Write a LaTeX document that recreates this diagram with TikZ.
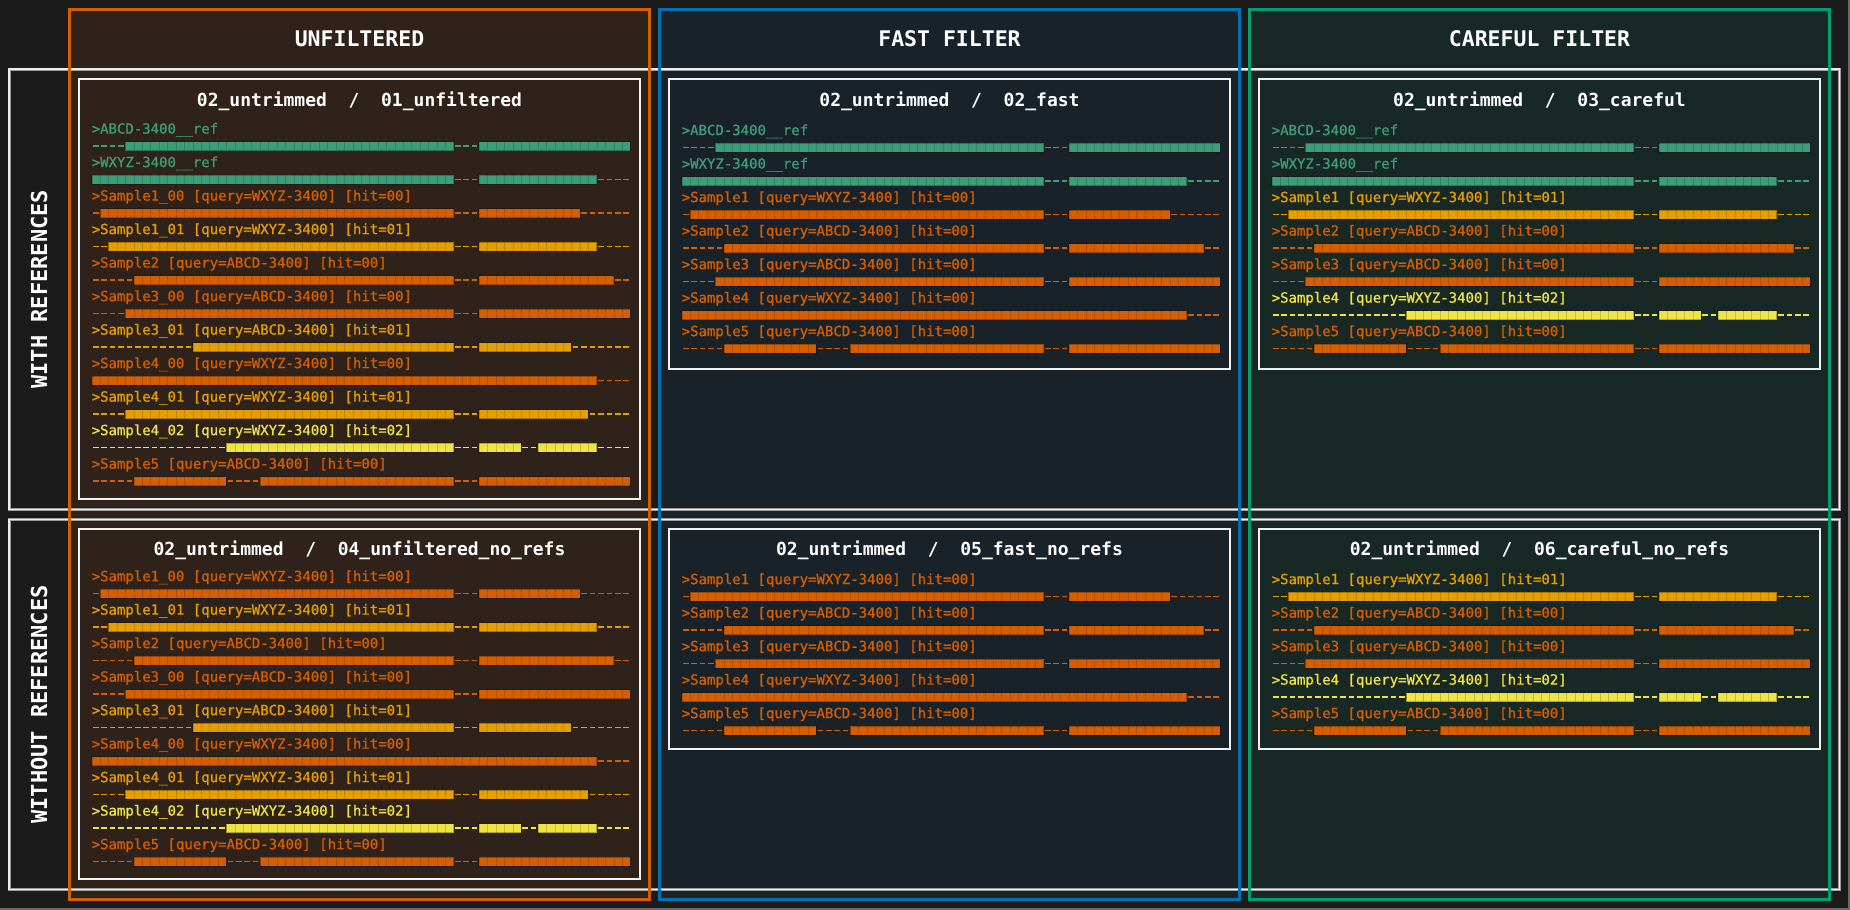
\documentclass[tikz,border=0pt]{standalone}
\usepackage{fontspec}
\newfontfamily\monofont{DejaVu Sans Mono}
\newfontfamily\labelmono{DejaVu Sans Mono}[FakeBold=0.8]

% palette
\definecolor{bgdark}{HTML}{1B1B1B}
\definecolor{fillU}{HTML}{2E221A}
\definecolor{fillF}{HTML}{1A2229}
\definecolor{fillC}{HTML}{182825}
\definecolor{lineU}{HTML}{D55E00}
\definecolor{lineF}{HTML}{0072B2}
\definecolor{lineC}{HTML}{009E73}
\definecolor{rowgray}{HTML}{9C9C9C}
\definecolor{rowlight}{HTML}{EEEEEE}
\definecolor{panelwhite}{HTML}{F2F2F2}
\definecolor{edgegray}{HTML}{6A6A6A}
\definecolor{verm}{HTML}{D55E00}
\definecolor{amber}{HTML}{E69F00}
\definecolor{yell}{HTML}{F0E442}
\definecolor{refg}{HTML}{3C9E78}

\newcommand\lblfont{\labelmono\fontsize{14}{16}\selectfont}
\newcommand\ttlfont{\monofont\bfseries\fontsize{18}{20}\selectfont}
\newcommand\hdrfont{\monofont\bfseries\fontsize{21.5}{24}\selectfont}
\newcommand\rowfont{\monofont\bfseries\fontsize{22}{24}\selectfont}

% width of one alignment cell
\def\cw{8.42}

% alignment blocks (first cell / last cell) of each sequence
\def\bRefA{4/42,46/63}
\def\bRefW{0/42,46/59}
\def\bSoneA{1/42,46/57}
\def\bSoneB{2/42,46/59}
\def\bStwo{5/42,46/61}
\def\bSthreeA{4/42,46/63}
\def\bSthreeB{12/42,46/56}
\def\bSfourA{0/59}
\def\bSfourB{4/42,46/58}
\def\bSfourC{16/42,46/50,53/59}
\def\bSfive{5/15,20/42,46/63}

% one alignment row: gaps as dashes, aligned stretches as filled cells
\newcommand{\seqbar}[4]{% #1 x, #2 y, #3 colour, #4 blocks
  \draw[#3, line width=1.5pt, dash pattern=on 5.6pt off 2.82pt, dash phase=7.02pt]
    (#1,#2) -- ++(64*\cw,0);
  \foreach \a/\b in #4 {%
    \fill[#3] ({#1+\a*\cw},{#2-4.5}) rectangle ({#1+(\b+1)*\cw},{#2+4.5});
    \draw[black, opacity=0.16, line width=9pt, dash pattern=on 0.7pt off 7.72pt]
      ({#1+\a*\cw},#2) -- ({#1+(\b+1)*\cw},#2);
    \draw[black, opacity=0.25, line width=0.7pt]
      ({#1+\a*\cw},{#2-4.5}) rectangle ({#1+(\b+1)*\cw},{#2+4.5});
  }%
}

% header line plus its alignment row
\newcommand{\seqentry}[7]{% #1 name, #2 x, #3 first y, #4 index, #5 colour, #6 text, #7 blocks
  \pgfmathsetmacro\ey{#3+#4*33.5}
  \node[lbl, text=#5] (#1) at (#2,\ey+5.1) {#6};
  \pgfmathsetmacro\by{\ey+17.7}
  \seqbar{#2}{\by}{#5}{#7}
}

\begin{document}
\begin{tikzpicture}[x=1pt, y=-1pt,
  lbl/.style={anchor=base west, inner sep=0pt, font=\lblfont},
  ttl/.style={anchor=base, inner sep=0pt, font=\ttlfont, text=white},
  hdr/.style={anchor=base, inner sep=0pt, font=\hdrfont, text=white},
  rowlbl/.style={rotate=90, inner sep=0pt, font=\rowfont, text=white},
  colfill/.style={inner sep=0pt, outer sep=0pt, minimum width=580pt, minimum height=889.5pt},
  colline/.style={line width=3pt},
  rowbox/.style={draw=rowgray, double=rowlight, double distance=1.1pt, line width=0.95pt,
    inner sep=0pt, outer sep=0pt, minimum width=1830.5pt},
  panel/.style={draw=panelwhite, line width=1.5pt, inner sep=0pt, outer sep=0pt, minimum width=561pt}
]
\useasboundingbox (0,0) rectangle (1850,910);
\fill[bgdark] (0,0) rectangle (1850,910);

% column backgrounds
\node[colfill, fill=fillU] (colU) at (359.5,454.25) {};
\node[colfill, fill=fillF] (colF) at (949.5,454.25) {};
\node[colfill, fill=fillC] (colC) at (1539.5,454.25) {};

% row frames
\node[rowbox, minimum height=440.5pt] (rowW) at (924.25,289.25) {};
\node[rowbox, minimum height=370pt] (rowN) at (924.25,704.5) {};

% column frames on top
\draw[colline, lineU] (colU.north west) rectangle (colU.south east);
\draw[colline, lineF] (colF.north west) rectangle (colF.south east);
\draw[colline, lineC] (colC.north west) rectangle (colC.south east);

% window edge
\draw[edgegray, line width=1.5pt] (1849.2,0) -- (1849.2,910);
\draw[edgegray, line width=1.5pt] (0,908.8) -- (1850,908.8);

% column headers
\node[hdr] (hU) at (359.5,46.7) {UNFILTERED};
\node[hdr] (hF) at (949.5,46.7) {FAST FILTER};
\node[hdr] (hC) at (1539.5,46.7) {CAREFUL FILTER};

% row headers
\node[rowlbl] (rW) at (39,289.25) {WITH REFERENCES};
\node[rowlbl] (rN) at (39,704.5) {WITHOUT REFERENCES};

% panels
\node[panel, minimum height=420pt] (pTU) at (359.5,289) {};
\node[panel, minimum height=290pt] (pTF) at (949.5,224) {};
\node[panel, minimum height=290pt] (pTC) at (1539.5,224) {};
\node[panel, minimum height=350pt] (pBU) at (359.5,704) {};
\node[panel, minimum height=220pt] (pBF) at (949.5,639) {};
\node[panel, minimum height=220pt] (pBC) at (1539.5,639) {};

% panel titles
\node[ttl] (tTU) at (359.5,106) {02\_untrimmed\ \ /\ \ 01\_unfiltered};
\node[ttl] (tTF) at (949.5,106) {02\_untrimmed\ \ /\ \ 02\_fast};
\node[ttl] (tTC) at (1539.5,106) {02\_untrimmed\ \ /\ \ 03\_careful};
\node[ttl] (tBU) at (359.5,555.6) {02\_untrimmed\ \ /\ \ 04\_unfiltered\_no\_refs};
\node[ttl] (tBF) at (949.5,555.6) {02\_untrimmed\ \ /\ \ 05\_fast\_no\_refs};
\node[ttl] (tBC) at (1539.5,555.6) {02\_untrimmed\ \ /\ \ 06\_careful\_no\_refs};

% --- unfiltered, with references
\seqentry{tu0}{91.5}{128.5}{0}{refg}{>ABCD-3400\_\_ref}{\bRefA}
\seqentry{tu1}{91.5}{128.5}{1}{refg}{>WXYZ-3400\_\_ref}{\bRefW}
\seqentry{tu2}{91.5}{128.5}{2}{verm}{>Sample1\_00 [query=WXYZ-3400] [hit=00]}{\bSoneA}
\seqentry{tu3}{91.5}{128.5}{3}{amber}{>Sample1\_01 [query=WXYZ-3400] [hit=01]}{\bSoneB}
\seqentry{tu4}{91.5}{128.5}{4}{verm}{>Sample2 [query=ABCD-3400] [hit=00]}{\bStwo}
\seqentry{tu5}{91.5}{128.5}{5}{verm}{>Sample3\_00 [query=ABCD-3400] [hit=00]}{\bSthreeA}
\seqentry{tu6}{91.5}{128.5}{6}{amber}{>Sample3\_01 [query=ABCD-3400] [hit=01]}{\bSthreeB}
\seqentry{tu7}{91.5}{128.5}{7}{verm}{>Sample4\_00 [query=WXYZ-3400] [hit=00]}{\bSfourA}
\seqentry{tu8}{91.5}{128.5}{8}{amber}{>Sample4\_01 [query=WXYZ-3400] [hit=01]}{\bSfourB}
\seqentry{tu9}{91.5}{128.5}{9}{yell}{>Sample4\_02 [query=WXYZ-3400] [hit=02]}{\bSfourC}
\seqentry{tu10}{91.5}{128.5}{10}{verm}{>Sample5 [query=ABCD-3400] [hit=00]}{\bSfive}

% --- fast filter, with references
\seqentry{tf0}{681.5}{130}{0}{refg}{>ABCD-3400\_\_ref}{\bRefA}
\seqentry{tf1}{681.5}{130}{1}{refg}{>WXYZ-3400\_\_ref}{\bRefW}
\seqentry{tf2}{681.5}{130}{2}{verm}{>Sample1 [query=WXYZ-3400] [hit=00]}{\bSoneA}
\seqentry{tf3}{681.5}{130}{3}{verm}{>Sample2 [query=ABCD-3400] [hit=00]}{\bStwo}
\seqentry{tf4}{681.5}{130}{4}{verm}{>Sample3 [query=ABCD-3400] [hit=00]}{\bSthreeA}
\seqentry{tf5}{681.5}{130}{5}{verm}{>Sample4 [query=WXYZ-3400] [hit=00]}{\bSfourA}
\seqentry{tf6}{681.5}{130}{6}{verm}{>Sample5 [query=ABCD-3400] [hit=00]}{\bSfive}

% --- careful filter, with references
\seqentry{tc0}{1271.5}{130}{0}{refg}{>ABCD-3400\_\_ref}{\bRefA}
\seqentry{tc1}{1271.5}{130}{1}{refg}{>WXYZ-3400\_\_ref}{\bRefW}
\seqentry{tc2}{1271.5}{130}{2}{amber}{>Sample1 [query=WXYZ-3400] [hit=01]}{\bSoneB}
\seqentry{tc3}{1271.5}{130}{3}{verm}{>Sample2 [query=ABCD-3400] [hit=00]}{\bStwo}
\seqentry{tc4}{1271.5}{130}{4}{verm}{>Sample3 [query=ABCD-3400] [hit=00]}{\bSthreeA}
\seqentry{tc5}{1271.5}{130}{5}{yell}{>Sample4 [query=WXYZ-3400] [hit=02]}{\bSfourC}
\seqentry{tc6}{1271.5}{130}{6}{verm}{>Sample5 [query=ABCD-3400] [hit=00]}{\bSfive}

% --- unfiltered, without references
\seqentry{bu0}{91.5}{576}{0}{verm}{>Sample1\_00 [query=WXYZ-3400] [hit=00]}{\bSoneA}
\seqentry{bu1}{91.5}{576}{1}{amber}{>Sample1\_01 [query=WXYZ-3400] [hit=01]}{\bSoneB}
\seqentry{bu2}{91.5}{576}{2}{verm}{>Sample2 [query=ABCD-3400] [hit=00]}{\bStwo}
\seqentry{bu3}{91.5}{576}{3}{verm}{>Sample3\_00 [query=ABCD-3400] [hit=00]}{\bSthreeA}
\seqentry{bu4}{91.5}{576}{4}{amber}{>Sample3\_01 [query=ABCD-3400] [hit=01]}{\bSthreeB}
\seqentry{bu5}{91.5}{576}{5}{verm}{>Sample4\_00 [query=WXYZ-3400] [hit=00]}{\bSfourA}
\seqentry{bu6}{91.5}{576}{6}{amber}{>Sample4\_01 [query=WXYZ-3400] [hit=01]}{\bSfourB}
\seqentry{bu7}{91.5}{576}{7}{yell}{>Sample4\_02 [query=WXYZ-3400] [hit=02]}{\bSfourC}
\seqentry{bu8}{91.5}{576}{8}{verm}{>Sample5 [query=ABCD-3400] [hit=00]}{\bSfive}

% --- fast filter, without references
\seqentry{bf0}{681.5}{579}{0}{verm}{>Sample1 [query=WXYZ-3400] [hit=00]}{\bSoneA}
\seqentry{bf1}{681.5}{579}{1}{verm}{>Sample2 [query=ABCD-3400] [hit=00]}{\bStwo}
\seqentry{bf2}{681.5}{579}{2}{verm}{>Sample3 [query=ABCD-3400] [hit=00]}{\bSthreeA}
\seqentry{bf3}{681.5}{579}{3}{verm}{>Sample4 [query=WXYZ-3400] [hit=00]}{\bSfourA}
\seqentry{bf4}{681.5}{579}{4}{verm}{>Sample5 [query=ABCD-3400] [hit=00]}{\bSfive}

% --- careful filter, without references
\seqentry{bc0}{1271.5}{579}{0}{amber}{>Sample1 [query=WXYZ-3400] [hit=01]}{\bSoneB}
\seqentry{bc1}{1271.5}{579}{1}{verm}{>Sample2 [query=ABCD-3400] [hit=00]}{\bStwo}
\seqentry{bc2}{1271.5}{579}{2}{verm}{>Sample3 [query=ABCD-3400] [hit=00]}{\bSthreeA}
\seqentry{bc3}{1271.5}{579}{3}{yell}{>Sample4 [query=WXYZ-3400] [hit=02]}{\bSfourC}
\seqentry{bc4}{1271.5}{579}{4}{verm}{>Sample5 [query=ABCD-3400] [hit=00]}{\bSfive}

\end{tikzpicture}
\end{document}
